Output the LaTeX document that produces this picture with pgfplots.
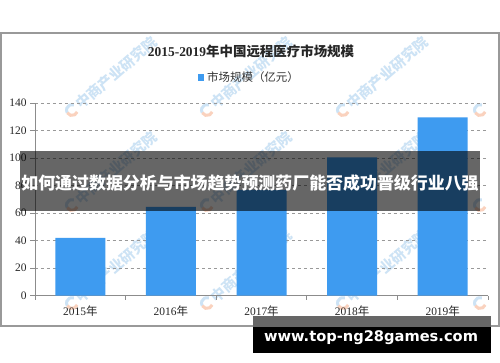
\documentclass[border=0pt]{standalone}
\usepackage{pgfplots}
\pgfplotsset{compat=1.18}
\usetikzlibrary{calc}
\usepackage{fontspec}
\setmainfont{Liberation Serif}
\newfontfamily\cjk{Noto Sans CJK SC}
\newfontfamily\dejavu{DejaVu Sans}
\definecolor{barblue}{RGB}{62,155,240}
\definecolor{wm}{RGB}{205,227,245}
\definecolor{wmo}{RGB}{250,210,190}
\begin{document}
\begin{tikzpicture}[x=1bp,y=1bp]
\path[use as bounding box] (0,0) rectangle (500,362);
\fill[white] (0,0) rectangle (500,362);
% watermarks (under the chart)
\foreach \yy in {252,157,59} {
  \foreach \xx in {72,207,343} {
    \draw[wm, line width=3bp] (\xx,\yy) ++(70:5.5) arc (70:210:5.5);
    \draw[wmo, line width=3bp] (\xx,\yy) ++(210:5.5) arc (210:340:5.5);
    \node[rotate=41, anchor=west, font=\cjk\bfseries\fontsize{14.5}{15}\selectfont, text=wm, inner sep=0pt] at ($(\xx,\yy)+(6,4)$) {中商产业研究院};
  }
}
\foreach \yy in {252,157,59} {
  \draw[wm, line width=3bp] (480,\yy) ++(70:5.5) arc (70:210:5.5);
  \draw[wmo, line width=3bp] (480,\yy) ++(210:5.5) arc (210:340:5.5);
}
\draw[black!40, line width=1.2bp] (1,329) rectangle (499,36);
\node[font=\cjk\bfseries\fontsize{13.5}{14}\selectfont, text=black!85] at (251,311) {{\rmfamily\bfseries 2015-2019}年中国远程医疗市场规模};
\fill[barblue] (197.5,281.5) rectangle (204,288);
\node[anchor=west, font=\cjk\fontsize{11.5}{12}\selectfont, text=black!80, inner sep=0pt] at (207,285) {市场规模（亿元）};
\begin{axis}[at={(35bp,66.3bp)}, anchor=south west, scale only axis,
  width=453bp, height=192.7bp,
  xmin=-0.5, xmax=4.5, ymin=0, ymax=140,
  ytick={0,20,...,140},
  xtick={0,...,4},
  xticklabels={2015{\cjk 年},2016{\cjk 年},2017{\cjk 年},2018{\cjk 年},2019{\cjk 年}},
  minor xtick={-0.5,0.5,...,4.5},
  axis x line*=bottom, axis y line*=left,
  axis line style={black!45, line width=0.8bp, -},
  tick align=outside,
  major tick length=5bp, minor tick length=4bp,
  x tick style={draw=none},
  minor x tick style={draw=black!45, line width=0.8bp},
  y tick style={black!45, line width=0.8bp},
  ymajorgrids, grid style={dashed, black!40, line width=0.6bp},
  tick label style={font=\fontsize{11.5}{12}\selectfont, text=black!85},
  /pgf/number format/assume math mode=true,
  xticklabel style={yshift=-2bp},
  clip=false,
]
\addplot[ybar, fill=barblue, draw=none, bar width=50bp] coordinates {(0,42.1)(1,64.5)(2,76.8)(3,100.5)(4,129.6)};
\end{axis}
\fill[black, opacity=0.6] (20,211) rectangle (480,151);
\node[font=\cjk\bfseries\fontsize{17}{17}\selectfont, text=white] at (250,179) {如何通过数据分析与市场趋势预测药厂能否成功晋级行业八强};
\fill[black!60] (253,46) rectangle (491,35.3);
\fill[black] (253,35.3) rectangle (491,9.3);
\node[font=\dejavu\bfseries\fontsize{14.7}{15}\selectfont, text=white] at (371,24.5) {www.top-ng28games.com};
\end{tikzpicture}
\end{document}
